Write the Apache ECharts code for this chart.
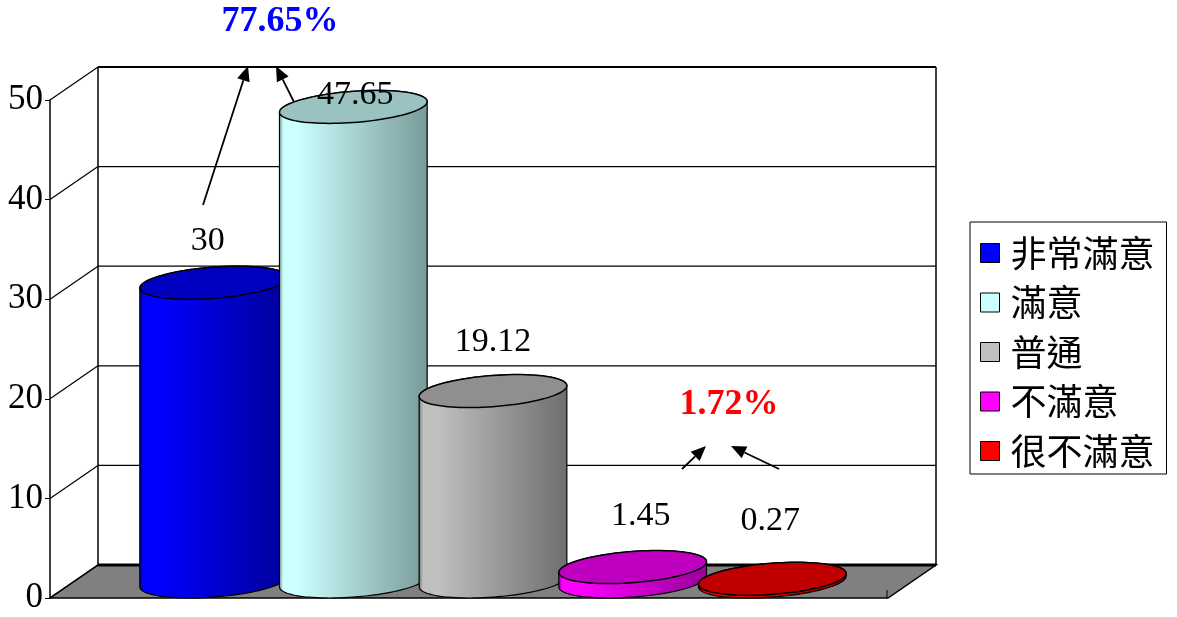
<!DOCTYPE html>
<html>
<head>
<meta charset="utf-8">
<script src="https://cdn.jsdelivr.net/npm/echarts@6/dist/echarts.min.js"></script>
<style>
  html, body { margin: 0; padding: 0; background: #ffffff; }
  #chart { width: 1177px; height: 617px; }
</style>
</head>
<body>
<div id="chart"></div>
<script>
// Survey satisfaction results (%)
const categories = ['非常滿意', '滿意', '普通', '不滿意', '很不滿意'];
const values = [30, 47.65, 19.12, 1.45, 0.27];
const yTicks = [0, 10, 20, 30, 40, 50];

// Colours: legend / front face, darker side shade, and cap colour
const faceColors = ['#0000FF', '#CCFFFF', '#C0C0C0', '#FF00FF', '#FF0000'];
const shadeColors = ['#00009A', '#789A98', '#6E6E6E', '#9A009A', '#9A0000'];
const capColors = ['#0000C0', '#99C2C0', '#8F8F8F', '#C000C0', '#C00000'];

// Hand-placed value label nudges (pixels)
const labelNudgeX = [-6, 2, 0, 8, -2];
const labelNudgeY = [0, 30, -7, -9, -16];

// Oblique depth of the 3D frame (pixels)
const DX = 48, DY = -33;
const SERIF = '"Liberation Serif", "Times New Roman", serif';

const n = categories.length;
const X_MIN = -(n + 1) / 2, X_MAX = (n + 1) / 2;
const Y_MAX = yTicks[yTicks.length - 1];

function ellipsePts(cx, cy, r, a, b, t1, t2, steps) {
  const pts = [];
  for (let k = 0; k <= steps; k++) {
    const t = t1 + (t2 - t1) * k / steps;
    pts.push([cx + r * Math.cos(t) + a * Math.sin(t), cy - b * Math.sin(t)]);
  }
  return pts;
}

// Back wall, left wall grid and floor
function renderFrame(params, api) {
  const t = api.value(0);
  const L = api.coord([X_MIN, t]);
  const R = api.coord([X_MAX, t]);
  const children = [];
  const black = { stroke: '#000', lineWidth: 1.2 };
  if (t === 0) {
    const Ltop = api.coord([X_MIN, Y_MAX]);
    const Rtop = api.coord([X_MAX, Y_MAX]);
    children.push({
      type: 'polygon',
      shape: { points: [[L[0], L[1]], [R[0], R[1]], [R[0] + DX, R[1] + DY], [L[0] + DX, L[1] + DY]] },
      style: { fill: '#808080', stroke: '#000', lineWidth: 1.5 }
    });
    children.push({ type: 'line', shape: { x1: L[0] + DX, y1: L[1] + DY, x2: R[0] + DX, y2: R[1] + DY }, style: { stroke: '#000', lineWidth: 3 } });
    children.push({ type: 'line', shape: { x1: L[0] + DX, y1: L[1] + DY, x2: Ltop[0] + DX, y2: Ltop[1] + DY }, style: { stroke: '#000', lineWidth: 1.5 } });
    children.push({ type: 'line', shape: { x1: R[0] + DX, y1: R[1] + DY, x2: Rtop[0] + DX, y2: Rtop[1] + DY }, style: { stroke: '#000', lineWidth: 1.5 } });
    children.push({ type: 'line', shape: { x1: R[0] - 1, y1: R[1], x2: R[0] - 1, y2: R[1] - 8 }, style: { stroke: '#000', lineWidth: 1 } });
  } else {
    children.push({
      type: 'line',
      shape: { x1: L[0] + DX, y1: L[1] + DY, x2: R[0] + DX, y2: R[1] + DY },
      style: { stroke: '#000', lineWidth: t === Y_MAX ? 2 : 1.2 }
    });
  }
  children.push({ type: 'line', shape: { x1: L[0], y1: L[1], x2: L[0] + DX, y2: L[1] + DY }, style: black });
  return { type: 'group', children };
}

// Cylinder with shaded body, elliptical cap and value label
function makeCylinder(i) {
  return function (params, api) {
    const xv = api.value(0), v = api.value(1);
    const top = api.coord([xv, v]);
    const base = api.coord([xv, 0]);
    const r = api.size([1, 0])[0] / 2;
    const a = DX / 2, b = -DY / 2;
    const cx = top[0] + DX / 2;
    const cyT = top[1] + DY / 2;
    const cyB = base[1] + DY / 2;
    const t0 = Math.atan2(a, r);
    const body = ellipsePts(cx, cyB, r, a, b, t0 + Math.PI, t0 + 2 * Math.PI, 48)
      .concat(ellipsePts(cx, cyT, r, a, b, t0, t0 + Math.PI, 48));
    const cap = ellipsePts(cx, cyT, r, a, b, 0, 2 * Math.PI, 96);
    const grad = new echarts.graphic.LinearGradient(0, 0, 1, 0, [
      { offset: 0, color: shadeColors[i] },
      { offset: 0.03, color: faceColors[i] },
      { offset: 0.12, color: faceColors[i] },
      { offset: 1, color: shadeColors[i] }
    ]);
    return {
      type: 'group',
      children: [
        { type: 'polygon', shape: { points: body }, style: { fill: grad, stroke: '#000', lineWidth: 1.2 } },
        { type: 'polygon', shape: { points: cap }, style: { fill: capColors[i], stroke: '#000', lineWidth: 1.5 } },
        {
          type: 'text',
          x: cx + labelNudgeX[i],
          y: cyT - b - 25 + labelNudgeY[i],
          style: {
            text: String(values[i]),
            fill: '#000',
            font: '34px ' + SERIF,
            align: 'center',
            verticalAlign: 'middle'
          },
          z2: 10
        }
      ]
    };
  };
}

function arrow(x1, y1, x2, y2) {
  const ang = Math.atan2(y2 - y1, x2 - x1);
  const len = 15, w = 6.5;
  const bx = x2 - len * Math.cos(ang), by = y2 - len * Math.sin(ang);
  const px = -Math.sin(ang) * w, py = Math.cos(ang) * w;
  return [
    { type: 'line', shape: { x1, y1, x2: bx, y2: by }, style: { stroke: '#000', lineWidth: 1.8 } },
    { type: 'polygon', shape: { points: [[x2, y2], [bx + px, by + py], [bx - px, by - py]] }, style: { fill: '#000' } }
  ];
}

const topPair = (values[0] + values[1]).toFixed(2) + '%';
const lowPair = (values[3] + values[4]).toFixed(2) + '%';

const series = [{
  type: 'custom',
  name: 'frame',
  renderItem: renderFrame,
  data: yTicks.map(t => [t]),
  encode: { y: 0 },
  silent: true,
  z: 1
}];
categories.forEach((c, i) => {
  series.push({
    type: 'custom',
    name: c,
    renderItem: makeCylinder(i),
    data: [[i - (n - 1) / 2, values[i]]],
    encode: { x: 0, y: 1 },
    itemStyle: { color: faceColors[i] },
    z: 2 + i
  });
});

const chart = echarts.init(document.getElementById('chart'), null, { renderer: 'canvas' });
chart.setOption({
  animation: false,
  backgroundColor: '#ffffff',
  grid: { left: 50, right: 289, top: 100, bottom: 19 },
  xAxis: { type: 'value', min: X_MIN, max: X_MAX, show: false },
  yAxis: {
    type: 'value',
    min: 0,
    max: Y_MAX,
    interval: 10,
    axisLine: { show: true, onZero: false, lineStyle: { color: '#000', width: 1.5 } },
    axisTick: { show: true, length: 5, lineStyle: { color: '#000', width: 1 } },
    axisLabel: { color: '#000', fontFamily: SERIF, fontSize: 35, margin: 7 },
    splitLine: { show: false }
  },
  legend: {
    data: categories,
    orient: 'vertical',
    left: 970,
    top: 222,
    padding: [13, 12, 5, 10],
    itemGap: 13.5,
    itemWidth: 19,
    itemHeight: 19,
    icon: 'rect',
    borderColor: '#000',
    borderWidth: 1,
    itemStyle: { borderColor: '#000', borderWidth: 1 },
    textStyle: {
      color: '#000',
      fontFamily: '"Noto Sans CJK TC", "Noto Sans CJK SC", sans-serif',
      fontSize: 36,
      lineHeight: 32,
      padding: [0, 0, 0, 6]
    },
    selectedMode: false
  },
  graphic: [
    {
      type: 'text', x: 280, y: 22,
      style: { text: topPair, fill: '#0000FF', font: 'bold 36px ' + SERIF, align: 'center', verticalAlign: 'middle' }
    },
    {
      type: 'text', x: 729, y: 405,
      style: { text: lowPair, fill: '#FF0000', font: 'bold 36px ' + SERIF, align: 'center', verticalAlign: 'middle' }
    },
    { type: 'group', children: arrow(203, 205, 248, 66).concat(arrow(297, 108, 276, 66)), z: 20 },
    { type: 'group', children: arrow(682, 469, 706, 446).concat(arrow(779, 469, 731, 446)), z: 20 }
  ],
  series
});
</script>
</body>
</html>
